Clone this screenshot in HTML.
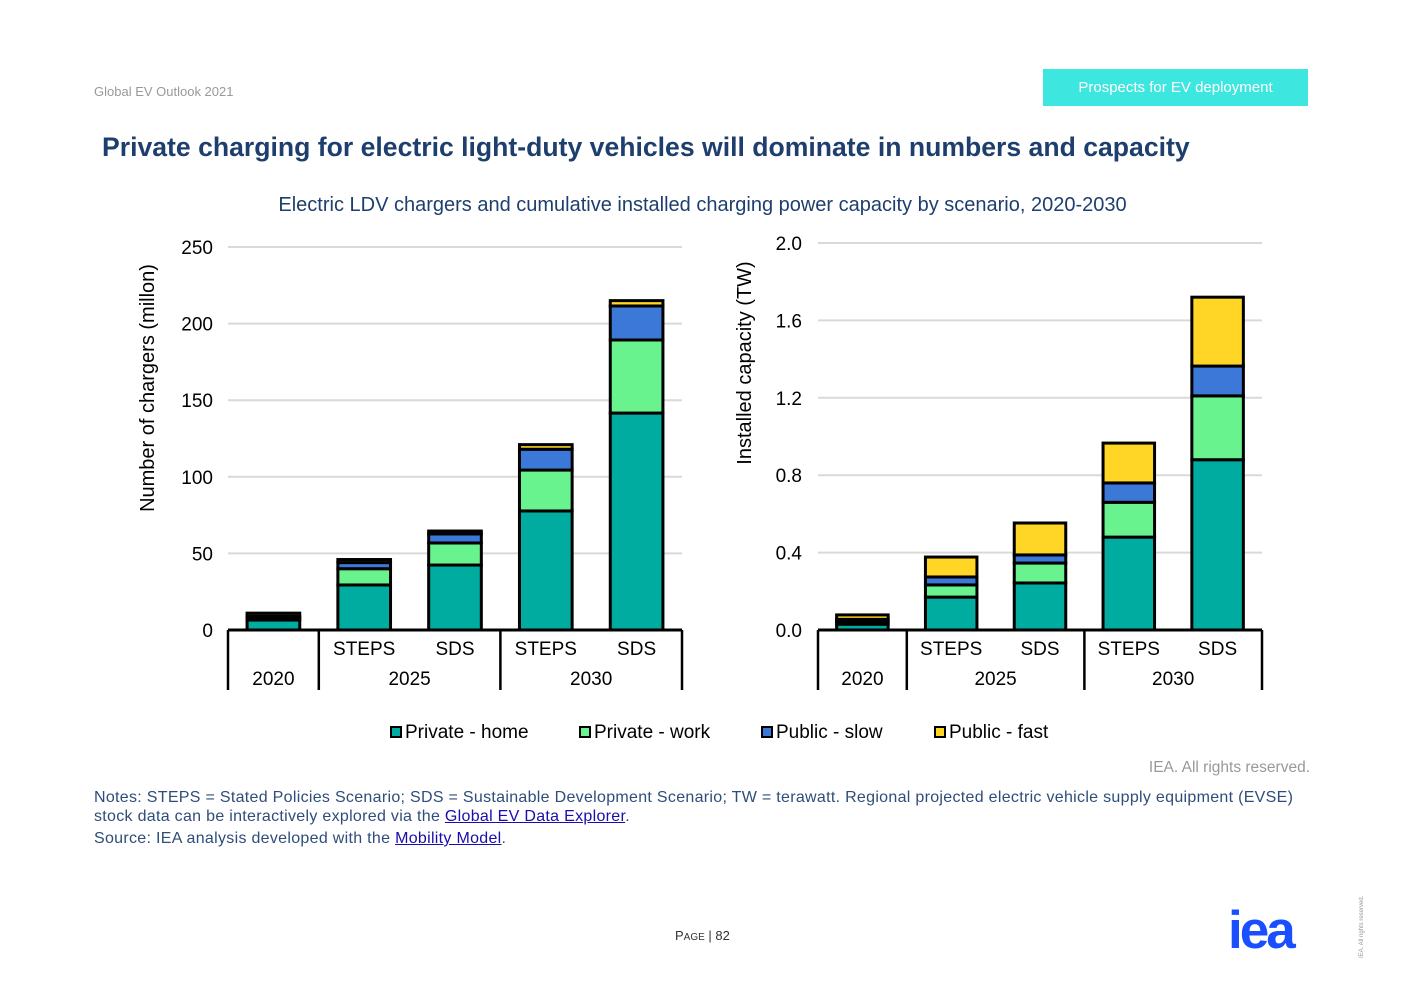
<!DOCTYPE html>
<html><head><meta charset="utf-8"><style>
body{margin:0;width:1403px;height:992px;background:#fff;position:relative;overflow:hidden;font-family:"Liberation Sans",Arial,sans-serif;}
.abs{position:absolute;}
a{color:#1a0dab;text-decoration:underline;}
</style></head><body>
<div class="abs" style="left:94px;top:84px;font-size:13px;color:#999;">Global EV Outlook 2021</div>
<div class="abs" style="left:1043px;top:69px;width:265px;height:37px;background:#3ee6e0;color:#fff;font-size:15px;line-height:37px;text-align:center;">Prospects for EV deployment</div>
<div class="abs" style="left:102px;top:132px;font-size:26.6px;font-weight:bold;color:#1e3f6e;white-space:nowrap;">Private charging for electric light-duty vehicles will dominate in numbers and capacity</div>
<div class="abs" style="left:0;width:1405px;top:194px;text-align:center;font-size:20px;color:#1e3f6e;">Electric LDV chargers and cumulative installed charging power capacity by scenario, 2020-2030</div>
<svg class="abs" style="left:0;top:0" width="1403" height="992" id="svg"></svg>
<div class="abs" style="left:1100px;width:210px;text-align:right;top:759px;font-size:15.5px;color:#999;">IEA. All rights reserved.</div>
<div class="abs" style="left:94px;top:788px;width:1214px;font-size:16px;letter-spacing:0.3px;color:#2e4d7a;line-height:19px;">Notes: STEPS = Stated Policies Scenario; SDS = Sustainable Development Scenario; TW = terawatt. Regional projected electric vehicle supply equipment (EVSE) stock data can be interactively explored via the <a>Global EV Data Explorer</a>.<br><span style="display:block;margin-top:3px">Source: IEA analysis developed with the <a>Mobility Model</a>.</span></div>
<div class="abs" style="left:675px;top:928px;font-size:13px;color:#333;">P<span style="font-size:10px">AGE</span> | 82</div>
<div class="abs" style="left:1228px;top:902px;font-size:53px;font-weight:900;color:#1a4fff;letter-spacing:-3px;line-height:58px;">iea</div>
<div class="abs" style="left:1322px;top:915px;font-size:6px;color:#999;transform:rotate(-90deg);transform-origin:center;width:80px;white-space:nowrap;">IEA. All rights reserved.</div>
<script>
const cats=["2020","2025 STEPS","2025 SDS","2030 STEPS","2030 SDS"];
const seriesNames=["Private - home","Private - work","Public - slow","Public - fast"];
const colors=["#00ab9f","#69f38f","#3c78d8","#ffd626"];
const leftHome=[6.5,29.4,42.4,77.7,141.6];
const leftWork=[1.5,10.6,14.4,26.7,47.7];
const leftSlow=[1,4,5.9,13.6,22.2];
const leftFast=[2,2,1.9,3,3.5];
const rightHome=[0.03,0.17,0.243,0.48,0.88];
const rightWork=[0.015,0.063,0.103,0.18,0.33];
const rightSlow=[0.01,0.041,0.042,0.1,0.154];
const rightFast=[0.023,0.103,0.165,0.206,0.356];
const leftTicks=["0","50","100","150","200","250"];
const rightTicks=["0.0","0.4","0.8","1.2","1.6","2.0"];
const svg=document.getElementById('svg');
const NS="http://www.w3.org/2000/svg";
function mk(t,a,txt){const e=document.createElementNS(NS,t);for(const k in a)e.setAttribute(k,a[k]);if(txt!==undefined)e.textContent=txt;svg.appendChild(e);return e;}
function chart(o){
  const y=v=>o.y0-(v/o.max)*(o.y0-o.yTop);
  o.ticks.forEach((t,i)=>{const v=o.max*i/(o.ticks.length-1);const yy=y(v);
    if(i>0){const g=mk('line',{x1:o.x0,x2:o.x1,y1:yy,y2:yy,stroke:'#d9d9d9','stroke-width':2});}
    const l=mk('text',{x:o.tickX,y:yy+7,'text-anchor':'end','font-size':19,fill:'#000'},t);});
  const w=(o.x1-o.x0)/5, bw=w*0.58;
  o.data[0].forEach((_,i)=>{let acc=0;const cx=o.x0+w*(i+0.5);
    o.data.forEach((s,j)=>{const y1=y(acc),y2=y(acc+s[i]);acc+=s[i];
      const r=mk('rect',{x:cx-bw/2,y:y2,width:bw,height:y1-y2,fill:colors[j],stroke:'#000','stroke-width':3});
      });});
  mk('line',{x1:o.x0,x2:o.x1,y1:o.y0,y2:o.y0,stroke:'#000','stroke-width':3});
  [0,1,3,5].forEach(k=>mk('line',{x1:o.x0+w*k,x2:o.x0+w*k,y1:o.y0,y2:o.y0+60,stroke:'#000','stroke-width':2.5}));
  ["","STEPS","SDS","STEPS","SDS"].forEach((t,i)=>{if(t){const e=mk('text',{x:o.x0+w*(i+0.5),y:o.y0+25,'text-anchor':'middle','font-size':19},t);}});
  [["2020",0.5],["2025",2],["2030",4]].forEach(([t,p])=>{const e=mk('text',{x:o.x0+w*p,y:o.y0+55,'text-anchor':'middle','font-size':19},t);});
  const at=mk('text',{x:0,y:0,'text-anchor':'middle','font-size':20,transform:`translate(${o.titleX},${o.titleY}) rotate(-90)`},o.title);
  
}
chart({x0:228,x1:682,y0:630,yTop:247,max:250,ticks:leftTicks,tickX:213,titleX:154,titleY:388,title:"Number of chargers  (millon)",data:[leftHome,leftWork,leftSlow,leftFast]});
chart({x0:818,x1:1262,y0:630,yTop:243,max:2,ticks:rightTicks,tickX:802,titleX:751,titleY:363,title:"Installed capacity (TW)",data:[rightHome,rightWork,rightSlow,rightFast]});
const lx=[391,580,762,935];
seriesNames.forEach((n,i)=>{const r=mk('rect',{x:lx[i],y:727,width:10,height:10,fill:colors[i],stroke:'#000','stroke-width':2});
  
  const t=mk('text',{x:lx[i]+14,y:738,'font-size':19},n);});
</script>
</body></html>
